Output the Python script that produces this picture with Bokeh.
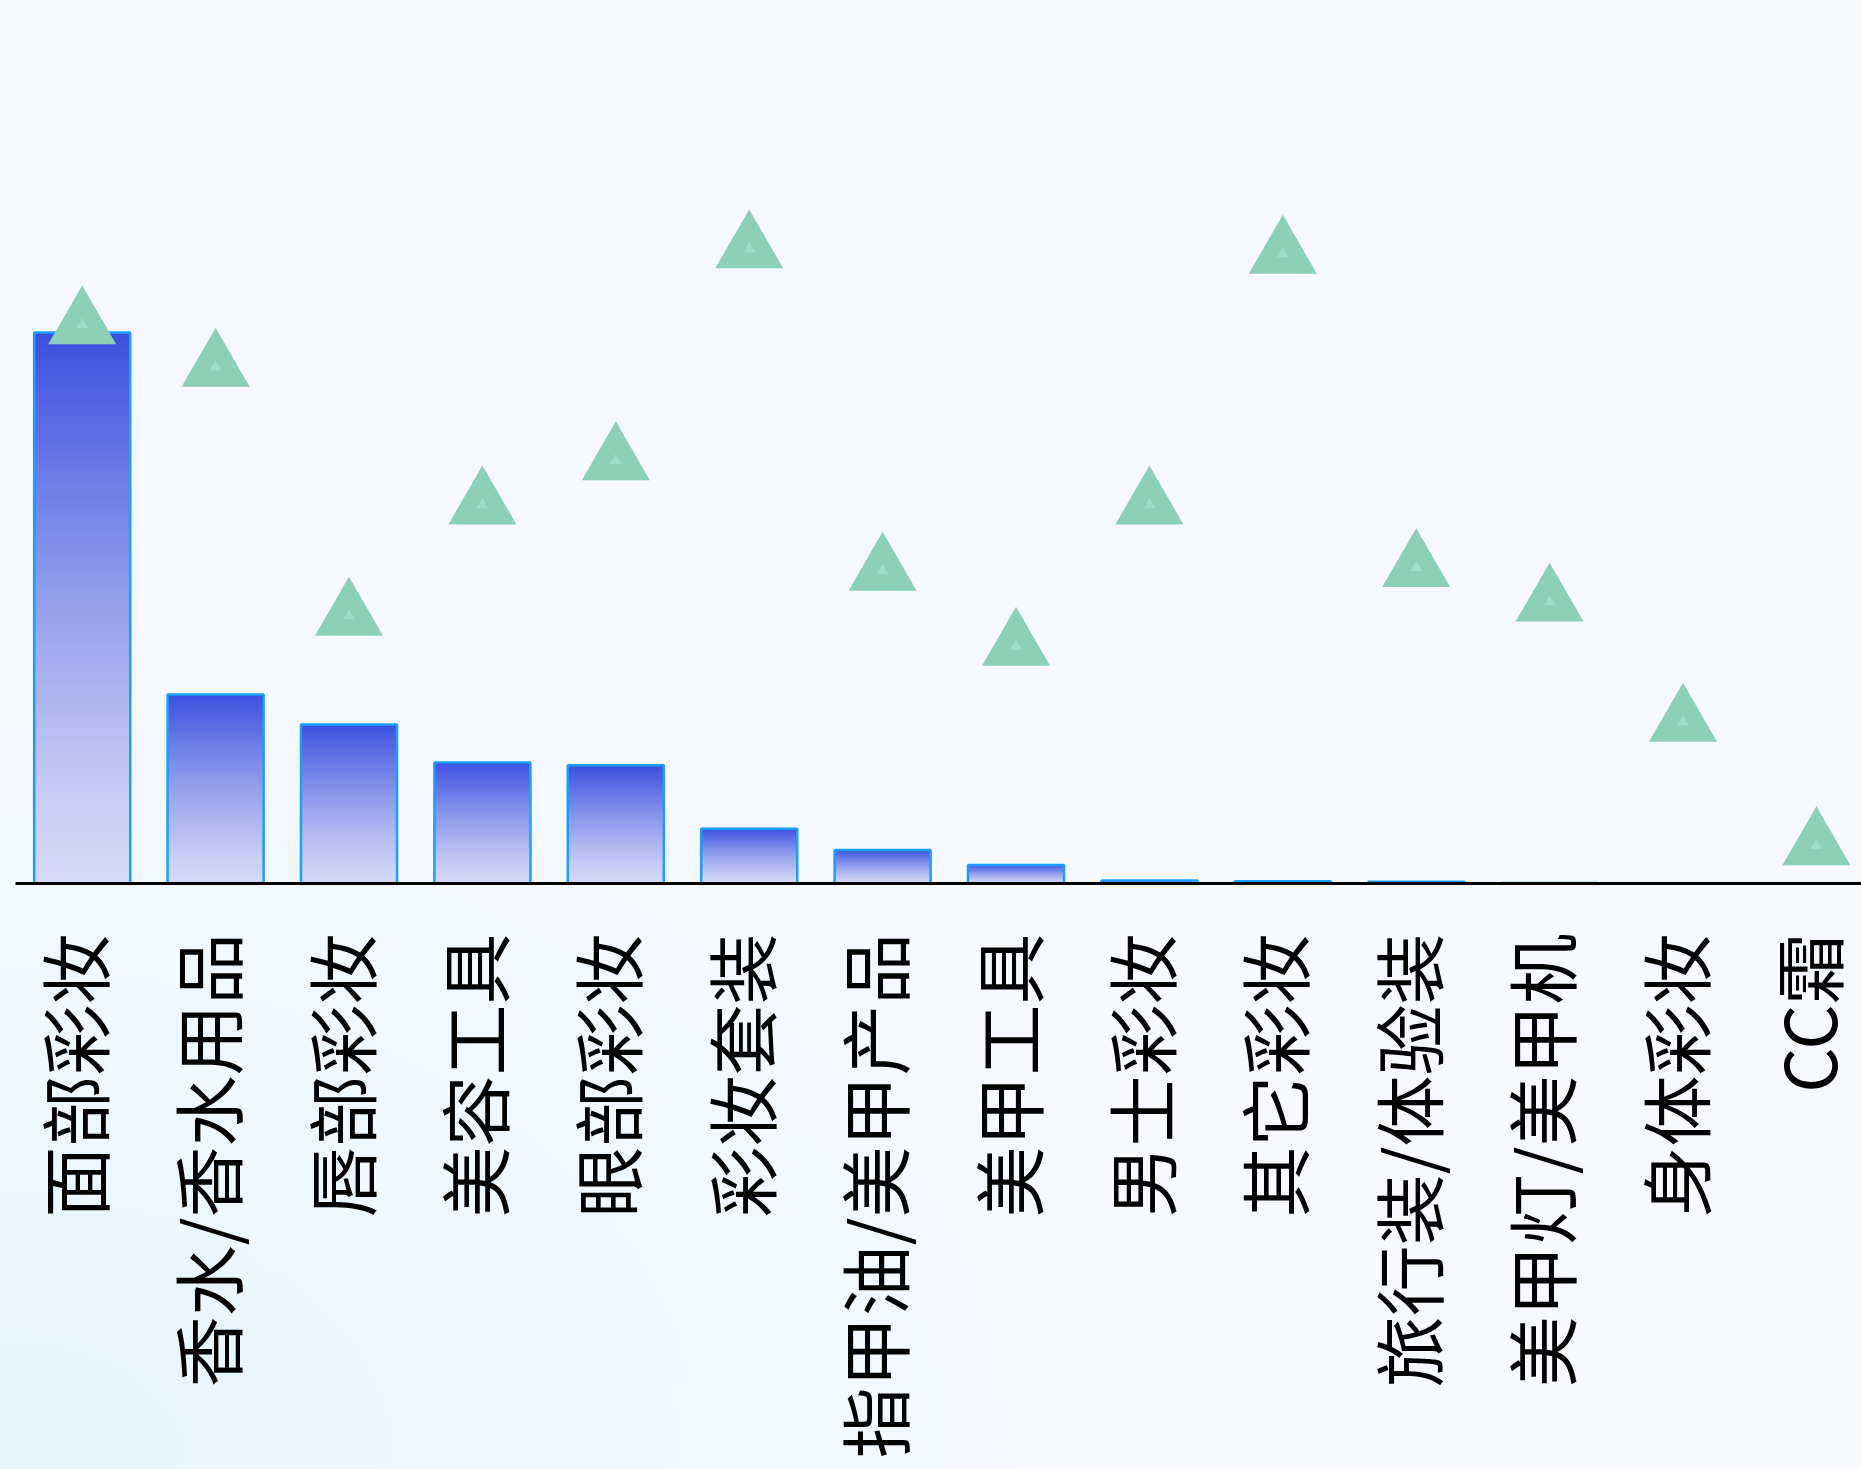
import math
import numpy as np
from bokeh.plotting import figure
from bokeh.models import Range1d, FixedTicker
from bokeh.embed import file_html
from bokeh.resources import INLINE

# ---- data ----
categories = ["面部彩妆", "香水/香水用品", "唇部彩妆", "美容工具", "眼部彩妆", "彩妆套装",
              "指甲油/美甲产品", "美甲工具", "男士彩妆", "其它彩妆", "旅行装/体验装",
              "美甲灯/美甲机", "身体彩妆", "CC霜"]
bar_values = [62.4, 21.4, 18.0, 13.7, 13.4, 6.2, 3.8, 2.1, 0.35, 0.25, 0.2, 0.05, 0.0, 0.0]
tri_values = [64.4, 59.6, 31.4, 44.0, 49.0, 73.0, 36.5, 28.0, 44.0, 72.4, 36.9, 33.0, 19.4, 5.4]

# ---- styling ----
BAR_W = 0.72
LABEL_SHIFT = -0.078   # tick-label nudge (category units) so the rotated glyphs sit like the reference
TOP_RGB = np.array([59, 80, 224], dtype=float)
BOT_RGB = np.array([213, 217, 246], dtype=float)

def gradient_image(n=256, gamma=1.25):
    t = np.linspace(0.0, 1.0, n)[:, None] ** gamma   # row 0 = bottom
    rgb = BOT_RGB + (TOP_RGB - BOT_RGB) * t
    img = np.empty((n, 2), dtype=np.uint32)
    view = img.view(dtype=np.uint8).reshape((n, 2, 4))
    view[:, :, 0] = np.round(rgb[:, 0:1]).astype(np.uint8)
    view[:, :, 1] = np.round(rgb[:, 1:2]).astype(np.uint8)
    view[:, :, 2] = np.round(rgb[:, 2:3]).astype(np.uint8)
    view[:, :, 3] = 255
    return img

xs = list(range(len(categories)))

p = figure(width=1861, height=1469,
           x_range=Range1d(-0.5, 13.338), y_range=Range1d(0, 100),
           output_backend="svg", toolbar_location=None, y_axis_location=None,
           min_border_left=15, min_border_right=0, min_border_top=0, min_border_bottom=586,
           background_fill_color=None, border_fill_color=None, outline_line_color=None,
           styles={"background": "radial-gradient(ellipse 62% 55% at 0% 100%, rgba(226,246,252,1) 0%, rgba(233,247,253,0.7) 45%, rgba(246,249,254,0) 100%), linear-gradient(180deg, #f5f8fe 0%, #f7f9fe 100%)"})
p.extra_y_ranges = {"tri": Range1d(1.11, 101.11)}
p.grid.visible = False

tick_pos = [i + LABEL_SHIFT for i in xs]
ax = p.xaxis[0]
ax.ticker = FixedTicker(ticks=tick_pos)
ax.major_label_overrides = {t: c for t, c in zip(tick_pos, categories)}
ax.major_label_orientation = math.pi / 2
ax.major_label_standoff = 50
ax.major_label_text_font = "Noto Sans CJK SC"
ax.major_label_text_font_size = "71px"
ax.major_label_text_color = "black"
ax.axis_line_color = "black"
ax.axis_line_width = 3
ax.major_tick_line_color = None
ax.major_tick_in = 0
ax.major_tick_out = 0
ax.minor_tick_line_color = None

# gradient bars
bx, bv = [], []
for i, v in zip(xs, bar_values):
    if v > 0:
        bx.append(i - BAR_W / 2)
        bv.append(v)
grad = gradient_image()
p.image_rgba(image=[grad] * len(bx), x=bx, y=[0] * len(bx), dw=[BAR_W] * len(bx), dh=bv)
p.vbar(x=xs, width=BAR_W, top=bar_values, bottom=0, fill_color=None,
       line_color="#19a0ff", line_width=2.5)

# triangles
p.scatter(xs, tri_values, marker="triangle", size=68, fill_color="#8bd0b7",
          line_color=None, y_range_name="tri")
p.scatter(xs, tri_values, marker="triangle", size=12, fill_color="#9cdcc8",
          line_color=None, y_range_name="tri")

open("out.html", "w").write(file_html(p, INLINE))
